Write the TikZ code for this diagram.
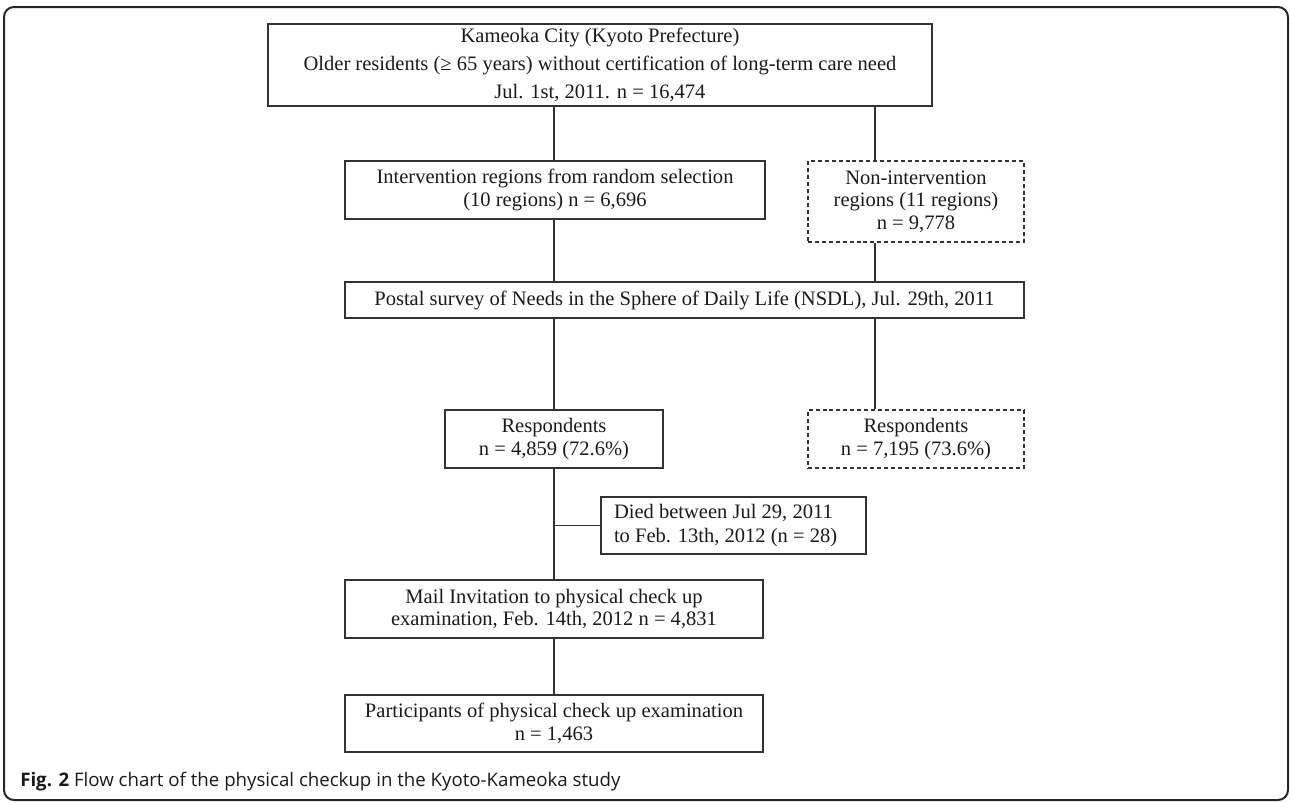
\documentclass[tikz,border=0pt]{standalone}
\usepackage{fontspec}
\setmainfont{Liberation Serif}
\newfontfamily\capfont{Open Sans}
\definecolor{linec}{HTML}{333333}
\definecolor{txt}{HTML}{1A1A1A}
\begin{document}
\begin{tikzpicture}[x=0.75pt,y=-0.75pt,
  box/.style={draw=linec, line width=1.05pt, inner sep=0pt, align=center, text=txt,
    font={\fontsize{15.4}{16.8}\selectfont}},
  dbox/.style={box, dash pattern=on 3pt off 2.2pt},
  sz/.style 2 args={minimum width=0.75pt*#1, minimum height=0.75pt*#2},
  conn/.style={draw=linec, line width=1.05pt}]
\useasboundingbox (0,0) rectangle (1290,803);
\draw[line width=1.5pt, draw=black!85, rounded corners=7.5pt] (4,7) rectangle (1288,800);

\coordinate (L) at (554,0);
\coordinate (R) at (875,0);

\node[box, sz={664}{82}, font={\fontsize{15.4}{21}\selectfont}] (top) at (600,65)
  {Kameoka City (Kyoto Prefecture)\\Older residents (≥ 65 years) without certification of long-term care need\\Jul. 1st, 2011. n = 16,474};
\node[box, sz={420}{58}] (interv) at (555,190)
  {Intervention regions from random selection\\(10 regions) n = 6,696};
\node[dbox, sz={216}{81}] (nonint) at (916,201.5)
  {Non-intervention\\regions (11 regions)\\n = 9,778};
\node[box, sz={679}{36}] (postal) at (684.5,300)
  {Postal survey of Needs in the Sphere of Daily Life (NSDL), Jul. 29th, 2011};
\node[box, sz={218}{58}] (resp) at (554,439)
  {Respondents\\n = 4,859 (72.6\%)};
\node[dbox, sz={216}{58}] (respd) at (916,439)
  {Respondents\\n = 7,195 (73.6\%)};
\node[box, minimum height=0.75pt*57, inner xsep=9.75pt, text width=179.25pt, align=flush left,
  font={\fontsize{15.4}{18}\selectfont}] (died) at (733.5,525.5)
  {Died between Jul 29, 2011\\to Feb. 13th, 2012 (n = 28)};
\node[box, sz={418}{58}] (mail) at (554,609)
  {Mail Invitation to physical check up\\examination, Feb. 14th, 2012 n = 4,831};
\node[box, sz={418}{57}] (part) at (554,723.5)
  {Participants of physical check up examination\\n = 1,463};

\draw[conn] (top.south -| L) -- (interv.north -| L);
\draw[conn] (top.south -| R) -- (nonint.north -| R);
\draw[conn] (interv.south -| L) -- (postal.north -| L);
\draw[conn] (nonint.south -| R) -- (postal.north -| R);
\draw[conn] (postal.south -| L) -- (resp.north -| L);
\draw[conn] (postal.south -| R) -- (respd.north -| R);
\draw[conn] (resp.south -| L) -- (mail.north -| L);
\draw[conn] (died.west -| L) -- (died.west);
\draw[conn] (mail.south -| L) -- (part.north -| L);

\node[anchor=base west, inner sep=0pt, text=txt, font={\capfont\fontsize{14}{16}\selectfont}] (cap) at (20,786)
  {\textbf{Fig. 2} Flow chart of the physical checkup in the Kyoto-Kameoka study};
\end{tikzpicture}
\end{document}
